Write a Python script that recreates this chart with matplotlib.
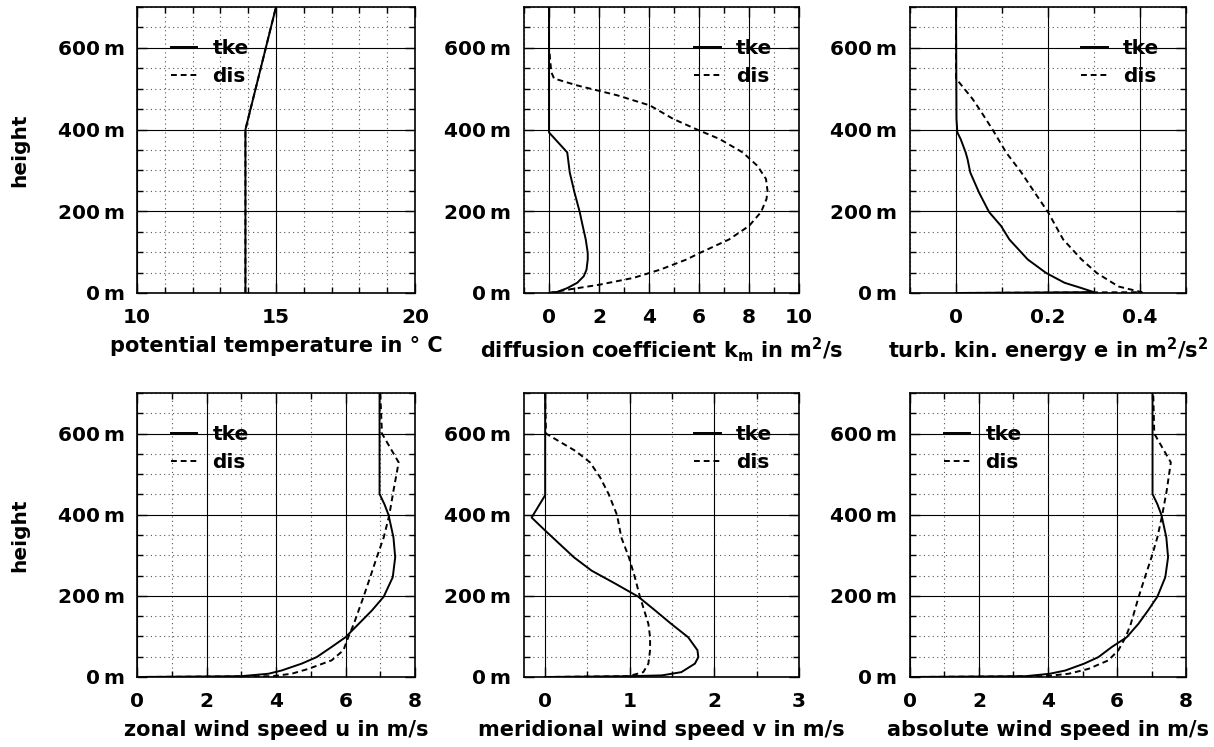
"""Vertical boundary-layer profiles: tke closure vs. diagnostic (dis) closure."""

import matplotlib
import matplotlib.pyplot as plt
from matplotlib.ticker import FixedLocator, MultipleLocator

matplotlib.use("Agg")

plt.rcParams["font.family"] = ["DejaVu Sans"]
plt.rcParams["font.weight"] = "bold"
plt.rcParams["mathtext.fontset"] = "dejavusans"
plt.rcParams["mathtext.default"] = "bf"

# --- data (heights in m) -----------------------------------------------------
z_theta = [0, 400, 700]
theta_tke = [13.9, 13.9, 15.0]
theta_dis = [13.9, 13.9, 15.0]

z_km_tke = [0, 3, 12, 25, 41, 57, 82, 98, 131, 172, 198, 246, 295, 344, 393, 700]
km_tke = [0, 0.35, 0.73, 1.13, 1.39, 1.5, 1.55, 1.55, 1.47, 1.32, 1.23, 1.02, 0.83, 0.73, 0, 0]
z_km_dis = [0, 8, 20, 37, 57, 82, 98, 131, 164, 198, 230, 250, 279, 311, 344, 377,
            399, 426, 459, 484, 508, 525, 541, 582, 598, 700]
km_dis = [0, 0.73, 1.99, 3.38, 4.44, 5.5, 6.03, 7.2, 8.0, 8.48, 8.7, 8.74, 8.68, 8.34, 7.75, 6.82,
          5.96, 4.97, 4.04, 2.72, 1.13, 0.2, 0.09, 0.03, 0, 0]

z_e_tke = [0, 2, 12, 25, 49, 82, 131, 164, 198, 246, 295, 328, 344, 377, 393, 426, 700]
e_tke = [0, 0.30, 0.273, 0.236, 0.196, 0.156, 0.116, 0.098, 0.072, 0.05, 0.031, 0.025, 0.021,
         0.010, 0.003, 0.001, 0]
z_e_dis = [0, 2, 8, 16, 49, 82, 131, 198, 246, 295, 344, 399, 443, 475, 525, 700]
e_dis = [0, 0.404, 0.382, 0.353, 0.306, 0.273, 0.233, 0.2, 0.171, 0.142, 0.109, 0.08, 0.055,
         0.036, 0, 0]

z_u_tke = [0, 2, 8, 16, 33, 49, 74, 98, 131, 164, 198, 246, 295, 344, 399, 426, 451, 700]
u_tke = [0, 3.0, 3.78, 4.16, 4.74, 5.17, 5.6, 6.0, 6.38, 6.76, 7.1, 7.36, 7.43, 7.38, 7.24,
         7.12, 6.98, 6.98]
z_u_dis = [0, 2, 8, 20, 41, 66, 98, 131, 198, 246, 295, 344, 399, 459, 529, 600, 700]
u_dis = [0, 3.9, 4.45, 4.93, 5.6, 5.94, 6.08, 6.24, 6.52, 6.71, 6.9, 7.1, 7.26, 7.38, 7.53,
         7.05, 7.0]

z_v_tke = [0, 2, 4, 12, 33, 49, 66, 98, 131, 164, 198, 230, 262, 295, 328, 361, 393, 448, 700]
v_tke = [0, 1.0, 1.38, 1.61, 1.77, 1.81, 1.8, 1.69, 1.49, 1.3, 1.1, 0.83, 0.55, 0.34, 0.17,
         0.0, -0.16, 0, 0]
z_v_dis = [0, 2, 4, 12, 33, 66, 98, 131, 198, 246, 295, 344, 399, 451, 492, 529, 557, 600, 700]
v_dis = [0, 0.98, 1.02, 1.16, 1.22, 1.24, 1.24, 1.22, 1.12, 1.06, 0.99, 0.9, 0.85, 0.75, 0.65,
         0.53, 0.36, 0.01, 0]

z_s_tke = [0, 2, 8, 16, 33, 49, 74, 98, 131, 164, 198, 246, 295, 344, 399, 426, 451, 700]
s_tke = [0, 3.35, 4.05, 4.5, 5.05, 5.46, 5.85, 6.28, 6.62, 6.9, 7.17, 7.4, 7.48, 7.43, 7.29,
         7.17, 7.03, 7.03]
z_s_dis = [0, 2, 8, 20, 41, 66, 98, 131, 198, 246, 295, 344, 399, 459, 529, 600, 700]
s_dis = [0, 3.92, 4.6, 5.17, 5.75, 6.04, 6.25, 6.4, 6.63, 6.81, 7.0, 7.17, 7.31, 7.44, 7.56,
         7.08, 7.05]

height_ticks = [0, 200, 400, 600]
height_labels = ["0\u2009m", "200\u2009m", "400\u2009m", "600\u2009m"]
theta_ticks = [10, 15, 20]
km_ticks = [0, 2, 4, 6, 8, 10]
e_ticks = [0, 0.2, 0.4]
e_tick_labels = ["0", "0.2", "0.4"]
wind_ticks = [0, 2, 4, 6, 8]
v_ticks = [0, 1, 2, 3]

# --- layout (pixels of the 1214 x 747 canvas) --------------------------------
W, H = 1214, 747
col_left = [137, 524, 910]
col_width = [278, 275, 276]
row_top = [7, 393]
row_height = [286, 284]

panels = [
    # row, col, xlim, major ticks, tick labels, minor step, xlabel, series, legend side
    (0, 0, (10, 20), theta_ticks, None, 1, "potential temperature in ° C",
     ((z_theta, theta_tke), (z_theta, theta_dis)), "left"),
    (0, 1, (-1, 10), km_ticks, None, 1, r"diffusion coefficient k$_{m}$ in m$^{2}$/s",
     ((z_km_tke, km_tke), (z_km_dis, km_dis)), "right"),
    (0, 2, (-0.1, 0.5), e_ticks, e_tick_labels, 0.1, r"turb. kin. energy e in m$^{2}$/s$^{2}$",
     ((z_e_tke, e_tke), (z_e_dis, e_dis)), "right"),
    (1, 0, (0, 8), wind_ticks, None, 1, "zonal wind speed u in m/s",
     ((z_u_tke, u_tke), (z_u_dis, u_dis)), "left"),
    (1, 1, (-0.25, 3), v_ticks, None, 0.5, "meridional wind speed v in m/s",
     ((z_v_tke, v_tke), (z_v_dis, v_dis)), "right"),
    (1, 2, (0, 8), wind_ticks, None, 1, "absolute wind speed in m/s",
     ((z_s_tke, s_tke), (z_s_dis, s_dis)), "left"),
]

fig = plt.figure(figsize=(W / 100, H / 100), dpi=100)

for row, col, xlim, ticks, labels, minor, xlabel, series, side in panels:
    left, width = col_left[col], col_width[col]
    top, height = row_top[row], row_height[row]
    ax = fig.add_axes([left / W, (H - top - height) / H, width / W, height / H])

    (z1, x1), (z2, x2) = series
    ax.plot(x1, z1, color="black", lw=1.4, label="tke")
    ax.plot(x2, z2, color="black", lw=1.4, ls=(0, (3, 2)), label="dis")

    ax.set_xlim(*xlim)
    ax.set_ylim(0, 700)
    ax.xaxis.set_major_locator(FixedLocator(ticks))
    if labels is not None:
        ax.set_xticklabels(labels)
    ax.xaxis.set_minor_locator(MultipleLocator(minor))
    ax.yaxis.set_major_locator(FixedLocator(height_ticks))
    ax.set_yticklabels(height_labels)
    ax.yaxis.set_minor_locator(MultipleLocator(50))

    ax.set_axisbelow(True)
    ax.grid(which="major", color="black", lw=0.8, ls="-")
    ax.grid(which="minor", color="#555555", lw=0.8, ls=(0, (1, 3)))
    ax.tick_params(which="both", direction="in", top=True, right=True, width=1.0,
                   labelsize=14.5)
    ax.tick_params(which="major", length=7)
    ax.tick_params(which="minor", length=4)
    ax.tick_params(axis="y", pad=9)
    ax.tick_params(axis="x", pad=11)
    for spine in ax.spines.values():
        spine.set_linewidth(1.2)

    ax.set_xlabel(xlabel, fontsize=15, fontweight="bold", labelpad=6)

    if side == "left":
        ax.legend(loc="upper left", bbox_to_anchor=(34 / width, 1 - 32 / height),
                  frameon=False, fontsize=14.5, borderpad=0, borderaxespad=0,
                  handlelength=1.3, handletextpad=0.75, labelspacing=0.45)
    else:
        ax.legend(loc="upper right", bbox_to_anchor=(1 - 27 / width, 1 - 32 / height),
                  frameon=False, fontsize=14.5, borderpad=0, borderaxespad=0,
                  handlelength=1.3, handletextpad=0.75, labelspacing=0.45)

for row in range(2):
    yc = H - (row_top[row] + row_height[row] / 2)
    fig.text(20 / W, yc / H, "height", rotation=90, ha="center", va="center",
             fontsize=14.5, fontweight="bold")

fig.savefig("out.png", dpi=100)
